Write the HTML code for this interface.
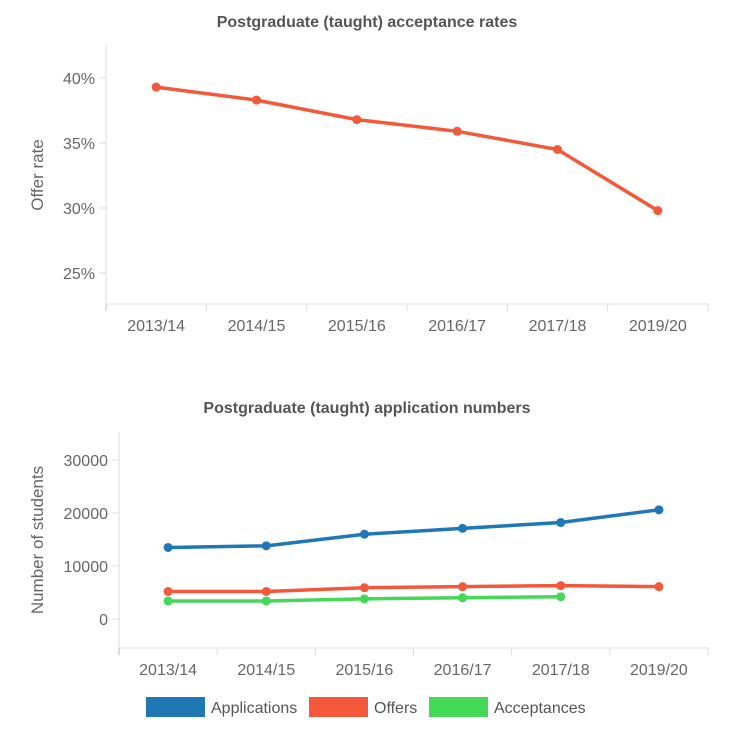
<!DOCTYPE html>
<html><head><meta charset="utf-8"><style>
body{margin:0;background:#fff;font-family:"Liberation Sans",Arial,sans-serif;}
svg text{font-family:"Liberation Sans",Arial,sans-serif;}
</style></head><body>
<svg id="s" width="738" height="744" xmlns="http://www.w3.org/2000/svg">
<text x="367" y="27" text-anchor="middle" font-size="16" font-weight="bold" fill="#555">Postgraduate (taught) acceptance rates</text>
<text x="367" y="413" text-anchor="middle" font-size="16" font-weight="bold" fill="#555">Postgraduate (taught) application numbers</text>
<text transform="translate(43,175) rotate(-90)" text-anchor="middle" font-size="17" fill="#666">Offer rate</text>
<text transform="translate(43,540) rotate(-90)" text-anchor="middle" font-size="17" fill="#666">Number of students</text>
<g id="c1"></g><g id="c2"></g>
<g>
<rect x="146" y="697" width="59" height="20" fill="#1f77b4"/>
<text x="211" y="713" font-size="16" fill="#555">Applications</text>
<rect x="309" y="697" width="59" height="20" fill="#f4583a"/>
<text x="374" y="713" font-size="16" fill="#555">Offers</text>
<rect x="429" y="697" width="59" height="20" fill="#44d858"/>
<text x="494" y="713" font-size="16" fill="#555">Acceptances</text>
</g>
</svg>
<script>
const categories=["2013/14","2014/15","2015/16","2016/17","2017/18","2019/20"];
const offerRate=[39.3,38.3,36.8,35.9,34.5,29.8];
const rateTicks=[25,30,35,40];
const applications=[13500,13800,16000,17100,18200,20600];
const offers=[5200,5200,5900,6100,6300,6100];
const acceptances=[3400,3400,3800,4000,4200];
const numTicks=[0,10000,20000,30000];
const NS="http://www.w3.org/2000/svg";
function mk(p,t,a){const e=document.createElementNS(NS,t);for(const k in a)e.setAttribute(k,a[k]);p.appendChild(e);return e;}
function chart(g,o){
  const bw=(o.x1-o.x0)/categories.length;
  const xs=i=>o.x0+bw*(i+0.5);
  const ys=v=>o.yRef+(o.vRef-v)*o.k;
  let l=mk(g,'line',{x1:o.x0,y1:o.yTop,x2:o.x0,y2:o.yBot,stroke:'#ddd'});
  
  
  l=mk(g,'line',{x1:o.x0,y1:o.yBot,x2:o.x1,y2:o.yBot,stroke:'#ddd'});
  
  
  o.ticks.forEach(v=>{
    const y=ys(v);
    const t=mk(g,'line',{x1:o.x0-7,y1:y,x2:o.x0,y2:y,stroke:'#ddd'});
    
    
    const tx=mk(g,'text',{x:o.x0-11,y:y+6,'text-anchor':'end','font-size':16,fill:'#666'});
    tx.textContent=o.fmt(v);
    
    
  });
  for(let i=0;i<=categories.length;i++){
    const x=o.x0+bw*i;
    const t=mk(g,'line',{x1:x,y1:o.yBot,x2:x,y2:o.yBot+7,stroke:i==0?'#bbb':'#ddd'});
    
    
  }
  categories.forEach((c,i)=>{
    const tx=mk(g,'text',{x:xs(i),y:o.yBot+27,'text-anchor':'middle','font-size':16,fill:'#666'});
    tx.textContent=c;
    
    
  });
  o.series.forEach(s=>{
    const p=mk(g,'polyline',{points:s.v.map((v,i)=>xs(i)+','+ys(v)).join(' '),fill:'none',stroke:s.c,'stroke-width':3.5});
    
    
    s.v.forEach((v,i)=>{
      const c=mk(g,'circle',{cx:xs(i),cy:ys(v),r:4.5,fill:s.c});
      
      
    });
  });
}
chart(document.getElementById('c1'),{x0:106,x1:708,yTop:45,yBot:304,yRef:78,vRef:40,k:13,ticks:rateTicks,fmt:v=>v+'%',
  series:[{v:offerRate,c:'#f4583a',n:'offer-rate'}]});
chart(document.getElementById('c2'),{x0:119,x1:708,yTop:432,yBot:648,yRef:619,vRef:0,k:0.0053,ticks:numTicks,fmt:v=>String(v),
  series:[{v:applications,c:'#1f77b4',n:'applications'},{v:offers,c:'#f4583a',n:'offers'},{v:acceptances,c:'#44d858',n:'acceptances'}]});
</script>
</body></html>
